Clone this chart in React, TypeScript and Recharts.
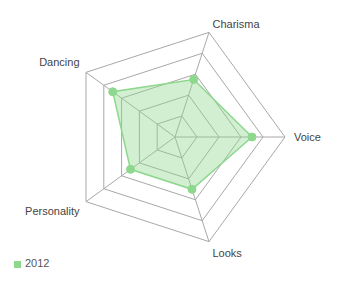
import React from 'react';
import { RadarChart, Radar, PolarGrid, PolarAngleAxis, PolarRadiusAxis, Legend } from 'recharts';

const traits = ['Voice', 'Looks', 'Personality', 'Dancing', 'Charisma'];
const scores2012 = [7, 5, 5, 7, 5.5];

const data = traits.map((trait, i) => ({ trait, y2012: scores2012[i] }));

const FONT = '"Liberation Sans", Arial, sans-serif';
const CX = 175;
const CY = 137;

// labels off the horizontal axis sit a little further out vertically
const AxisTick = (props: any) => {
  const { x, y, payload, textAnchor } = props;
  let dy = 4;
  if (textAnchor === 'end') dy += y < CY ? -6 : 5;
  else if (y < CY - 20) dy -= 1;
  else if (y > CY + 20) dy += 4;
  return (
    <text x={x + (textAnchor === 'start' ? 1 : 0)} y={y + dy} textAnchor={textAnchor} fill="#444" fontSize={11} fontFamily={FONT}>
      {payload.value}
    </text>
  );
};

export default function App() {
  return (
    <div style={{ width: 340, height: 295, margin: -8, position: 'relative', background: '#fff' }}>
      <RadarChart
        width={340}
        height={295}
        data={data}
        cx={CX}
        cy={CY}
        outerRadius={110}
        startAngle={0}
        endAngle={-360}
        margin={{ top: 0, right: 0, bottom: 0, left: 0 }}
      >
        <PolarGrid gridType="polygon" stroke="#a8a8a8" strokeWidth={1} />
        <PolarAngleAxis dataKey="trait" tickLine={false} axisLine={false} tick={<AxisTick />} />
        <PolarRadiusAxis domain={[0, 10]} tickCount={6} tick={false} axisLine={false} />
        <Radar
          name="2012"
          dataKey="y2012"
          stroke="#8ed88e"
          strokeWidth={1.5}
          fill="#8ed88e"
          fillOpacity={0.4}
          dot={{ r: 4, fill: '#8ed88e', stroke: '#8ed88e', strokeWidth: 1, fillOpacity: 1 }}
          isAnimationActive={false}
        />
        <Legend
          iconType="square"
          iconSize={7}
          layout="horizontal"
          align="left"
          verticalAlign="bottom"
          wrapperStyle={{ position: 'absolute', left: 14, top: 257, width: 'auto', fontFamily: FONT, fontSize: 11 }}
          formatter={(v: string) => <span style={{ color: '#555' }}>{v}</span>}
        />
      </RadarChart>
    </div>
  );
}
